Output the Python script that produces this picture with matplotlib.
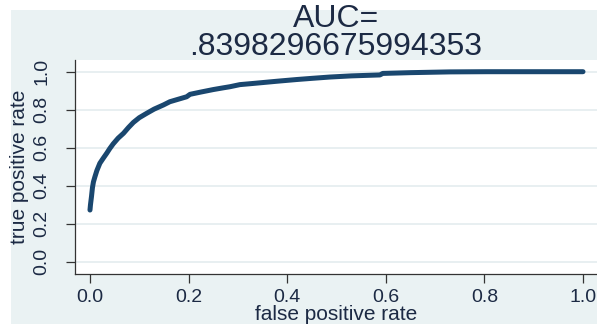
import matplotlib
matplotlib.use('Agg')
import matplotlib.pyplot as plt
from matplotlib.patches import Rectangle

# # # # # # # # # #   DATA   # # # # # # # # # #
fpr = [0.0, 0.001, 0.003, 0.005, 0.007, 0.010, 0.014, 0.020, 0.027, 0.034,
       0.040, 0.047, 0.057, 0.068, 0.078, 0.088, 0.100, 0.115, 0.130, 0.149,
       0.162, 0.175, 0.196, 0.203, 0.225, 0.250, 0.270, 0.284, 0.304, 0.330,
       0.351, 0.380, 0.420, 0.450, 0.487, 0.530, 0.588, 0.594, 0.650, 0.690,
       0.730, 0.805, 1.0]
tpr = [0.272, 0.300, 0.342, 0.390, 0.420, 0.447, 0.480, 0.518, 0.545, 0.571,
       0.595, 0.620, 0.650, 0.676, 0.706, 0.733, 0.758, 0.781, 0.803, 0.825,
       0.842, 0.852, 0.868, 0.881, 0.893, 0.906, 0.915, 0.921, 0.932, 0.938,
       0.943, 0.950, 0.959, 0.965, 0.972, 0.978, 0.983, 0.991, 0.995, 0.997,
       0.999, 1.0, 1.0]
ticks = [0.0, 0.2, 0.4, 0.6, 0.8, 1.0]
tick_labels = ['0.0', '0.2', '0.4', '0.6', '0.8', '1.0']
title_lines = ['AUC=', '.8398296675994353']

# # # # # # # # # #   STYLE   # # # # # # # # # #
plt.rcParams['font.family'] = ['Liberation Sans', 'DejaVu Sans']
bg = '#eaf2f3'
navy = '#1a476f'
text_col = '#1c2a44'
W, H = 597, 324

fig = plt.figure(figsize=(W / 100, H / 100), dpi=100, facecolor='white')
# stata style graph region
fig.patches.append(Rectangle((11 / W, 0), 1 - 11 / W, (H - 10) / H,
                             transform=fig.transFigure, facecolor=bg,
                             edgecolor='none', zorder=-10))

ax = fig.add_axes([75 / W, (H - 274) / H, 1 - 75 / W, (274 - 60) / H])
ax.set_facecolor('white')

ax.plot(fpr, tpr, color=navy, lw=3.6, solid_capstyle='round',
        solid_joinstyle='round', zorder=3)

ax.set_xlim(-0.0304, 1.0284)
ax.set_ylim(-0.0647, 1.0616)
ax.set_xticks(ticks)
ax.set_xticklabels(tick_labels)
ax.set_yticks(ticks)
ax.set_yticklabels(tick_labels, rotation=90, va='center')

ax.grid(axis='y', color='#e6eef0', lw=1.3, zorder=0)
ax.grid(axis='x', visible=False)
for s in ['top', 'right']:
    ax.spines[s].set_visible(False)
for s in ['left', 'bottom']:
    ax.spines[s].set_color('#333333')
    ax.spines[s].set_linewidth(0.9)
ax.tick_params(axis='both', direction='out', length=6.5, width=0.9,
               color='#333333', labelsize=14, labelcolor=text_col)
ax.tick_params(axis='y', pad=11)
ax.tick_params(axis='x', pad=4)

# axis titles
fig.text((75 + W) / 2 / W, 4 / H, 'false positive rate', ha='center',
         va='baseline', fontsize=15, color=text_col)
fig.text(20 / W, (H - 167) / H, 'true positive rate', ha='center',
         va='center', rotation=90, fontsize=15, color=text_col)

# title, two lines
cx = (75 + W) / 2 / W
fig.text(cx, (H - 27) / H, title_lines[0], ha='center', va='baseline',
         fontsize=23, color=text_col)
fig.text(cx, (H - 55) / H, title_lines[1], ha='center', va='baseline',
         fontsize=23, color=text_col)

fig.savefig('out.png', dpi=100, facecolor='white')
